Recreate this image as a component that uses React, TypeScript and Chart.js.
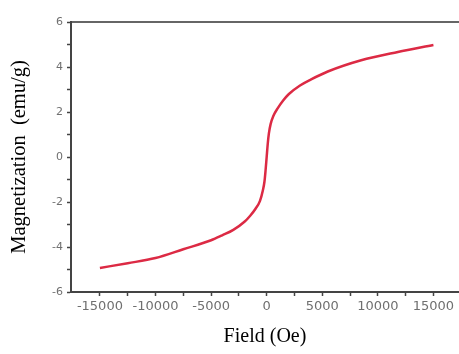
import React, { useEffect, useRef } from "react";
import { Chart, registerables } from "chart.js";

Chart.register(...registerables);

const fieldOe = [
  -15000, -12500, -10000, -7500, -5000, -4000, -3000, -2000, -1500, -1000,
  -600, -350, -200, -100, 0, 100, 200, 350, 600, 1000, 1500, 2000, 3000,
  4000, 5500, 8500, 11800, 15000,
];
const magnetization = [
  -4.93, -4.72, -4.49, -4.1, -3.7, -3.48, -3.24, -2.88, -2.62, -2.3,
  -1.95, -1.5, -1.1, -0.6, 0.0, 0.6, 1.05, 1.45, 1.82, 2.17, 2.52, 2.8, 3.18,
  3.45, 3.8, 4.3, 4.67, 4.98,
];
const xTickValues = [
  -15000, -12500, -10000, -7500, -5000, -2500, 0, 2500, 5000, 7500, 10000,
  12500, 15000,
];
const yTickValues = [-6, -5, -4, -3, -2, -1, 0, 1, 2, 3, 4, 5, 6];

export default function App() {
  const ref = useRef<HTMLCanvasElement | null>(null);

  useEffect(() => {
    document.body.style.margin = "0";
    if (!ref.current) return;
    const points = fieldOe.map((x, i) => ({ x, y: magnetization[i] }));
    const chart = new Chart(ref.current, {
      type: "line",
      data: {
        datasets: [
          {
            data: points,
            borderColor: "#dc2a44",
            borderWidth: 2.5,
            pointRadius: 0,
            cubicInterpolationMode: "monotone",
            fill: false,
          },
        ],
      },
      options: {
        animation: false,
        responsive: false,
        maintainAspectRatio: false,
        layout: { padding: 0 },
        plugins: {
          legend: { display: false },
          tooltip: { enabled: false },
        },
        scales: {
          x: {
            type: "linear",
            position: "bottom",
            min: -17600,
            max: 17300,
            afterBuildTicks: (scale: any) => {
              scale.ticks = xTickValues.map((v) => ({ value: v }));
            },
            afterFit: (scale: any) => {
              scale.height = 62;
            },
            ticks: {
              autoSkip: false,
              maxRotation: 0,
              padding: 3,
              color: "#6f6f6f",
              font: { family: "DejaVu Sans", size: 13 },
              callback: (v: any) => (Number(v) % 5000 === 0 ? String(v) : ""),
            },
            grid: {
              display: true,
              drawOnChartArea: false,
              drawTicks: true,
              tickLength: 4,
              tickColor: "#444",
              tickWidth: 1.5,
            },
            border: { display: true, color: "#444", width: 2 },
            title: {
              display: true,
              text: "Field (Oe)",
              color: "#000",
              font: { family: "Liberation Serif", size: 20 },
              padding: { top: 0, bottom: 5 },
            },
          },
          x2: {
            type: "linear",
            position: "top",
            min: -17600,
            max: 17300,
            afterFit: (scale: any) => {
              scale.height = 22;
            },
            ticks: { display: false },
            grid: { display: false, drawTicks: false },
            border: { display: true, color: "#666", width: 2 },
          },
          y: {
            type: "linear",
            position: "left",
            min: -6,
            max: 6,
            afterBuildTicks: (scale: any) => {
              scale.ticks = yTickValues.map((v) => ({ value: v }));
            },
            afterFit: (scale: any) => {
              scale.width = 71;
            },
            ticks: {
              autoSkip: false,
              padding: 4,
              color: "#6f6f6f",
              font: { family: "DejaVu Sans", size: 11 },
              callback: (v: any) => (Number(v) % 2 === 0 ? String(v) : ""),
            },
            grid: {
              display: true,
              drawOnChartArea: false,
              drawTicks: true,
              tickLength: 4,
              tickColor: "#444",
              tickWidth: 1.5,
            },
            border: { display: true, color: "#444", width: 2 },
            title: {
              display: true,
              text: "Magnetization  (emu/g)",
              color: "#000",
              font: { family: "Liberation Serif", size: 20.5 },
              padding: { top: 7, bottom: 0 },
            },
          },
        },
      },
    });
    return () => chart.destroy();
  }, []);

  return (
    <div style={{ width: 459, height: 354 }}>
      <canvas ref={ref} width={459} height={354} style={{ display: "block" }} />
    </div>
  );
}
